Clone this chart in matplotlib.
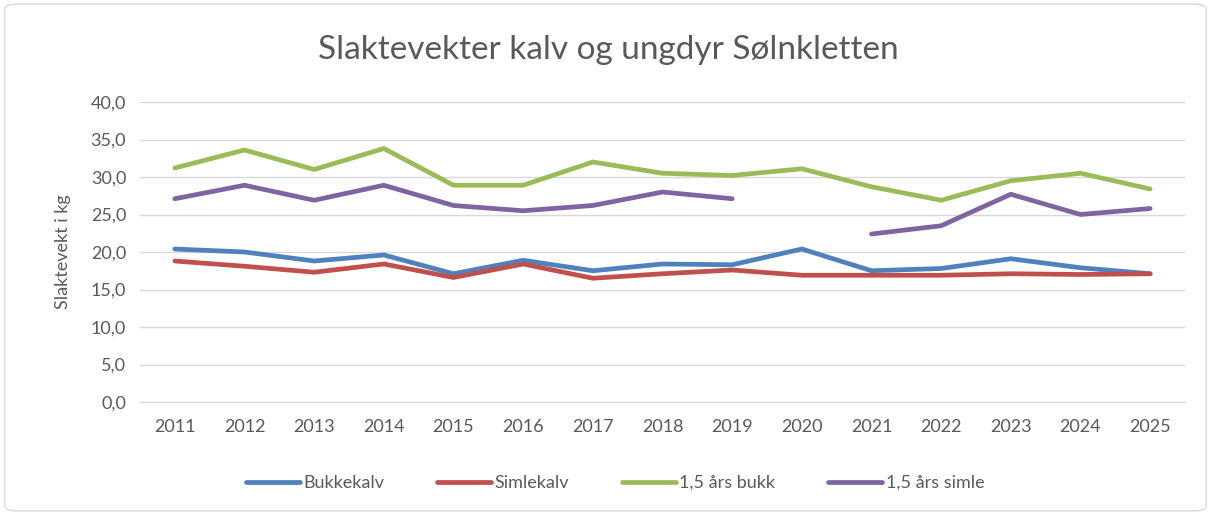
import numpy as np
import matplotlib.pyplot as plt
from matplotlib.patches import FancyBboxPatch

years = ['2011', '2012', '2013', '2014', '2015', '2016', '2017', '2018',
         '2019', '2020', '2021', '2022', '2023', '2024', '2025']
bukkekalv = [20.4, 20.0, 18.8, 19.6, 17.1, 18.9, 17.5, 18.4, 18.3, 20.4, 17.5, 17.8, 19.1, 17.9, 17.1]
simlekalv = [18.8, 18.1, 17.3, 18.4, 16.6, 18.4, 16.5, 17.1, 17.6, 16.9, 16.9, 16.9, 17.1, 17.0, 17.1]
bukk_15 = [31.2, 33.6, 31.0, 33.8, 28.9, 28.9, 32.0, 30.5, 30.2, 31.1, 28.7, 26.9, 29.5, 30.5, 28.4]
simle_15 = [27.1, 28.9, 26.9, 28.9, 26.2, 25.5, 26.2, 28.0, 27.1, np.nan, 22.4, 23.5, 27.7, 25.0, 25.8]

series = [('Bukkekalv', bukkekalv, '#4F81BD'),
          ('Simlekalv', simlekalv, '#C0504D'),
          ('1,5 års bukk', bukk_15, '#9BBB59'),
          ('1,5 års simle', simle_15, '#8064A2')]

plt.rcParams['font.family'] = ['Lato', 'DejaVu Sans']
txt = '#595959'

fig = plt.figure(figsize=(12.11, 5.15), dpi=100)
border = FancyBboxPatch((0.004, 0.008), 0.992, 0.984, boxstyle='round,pad=0,rounding_size=0.01',
                        transform=fig.transFigure, fc='none', ec='#D9D9D9', lw=1, zorder=-1)
fig.patches.append(border)
ax = fig.add_axes([140/1211, 1 - 402/515, (1185 - 140)/1211, 300/515])
ax.patch.set_alpha(0)

x = np.arange(len(years))
for name, vals, col in series:
    ax.plot(x, vals, color=col, lw=3.4, label=name, solid_capstyle='round')

ax.set_xlim(-0.5, len(years) - 0.5)
ax.set_ylim(0, 40)
ax.set_yticks(np.arange(0, 41, 5))
ax.set_yticklabels([f'{v:.1f}'.replace('.', ',') for v in np.arange(0, 41, 5)])
ax.set_xticks(x)
ax.set_xticklabels(years)
ax.grid(axis='y', color='#D9D9D9', lw=1)
ax.set_axisbelow(True)
for s in ['top', 'right', 'left']:
    ax.spines[s].set_visible(False)
ax.spines['bottom'].set_color('#D9D9D9')
ax.tick_params(length=0, labelsize=13, labelcolor=txt, pad=10)
ax.tick_params(axis='x', pad=12)

ax.set_ylabel('Slaktevekt i kg', fontsize=13, color=txt, labelpad=14)
fig.text(608 / 1211, 1 - 50/515, 'Slaktevekter kalv og ungdyr Sølnkletten',
         ha='center', va='center', fontsize=24, color=txt)

fig.legend(*ax.get_legend_handles_labels(), loc='center', bbox_to_anchor=(615 / 1211, 1 - 483 / 515),
           ncol=4, frameon=False, fontsize=13, labelcolor=txt, handlelength=3.0,
           handletextpad=0.2, columnspacing=2.9)

fig.savefig('out.png', dpi=100)
